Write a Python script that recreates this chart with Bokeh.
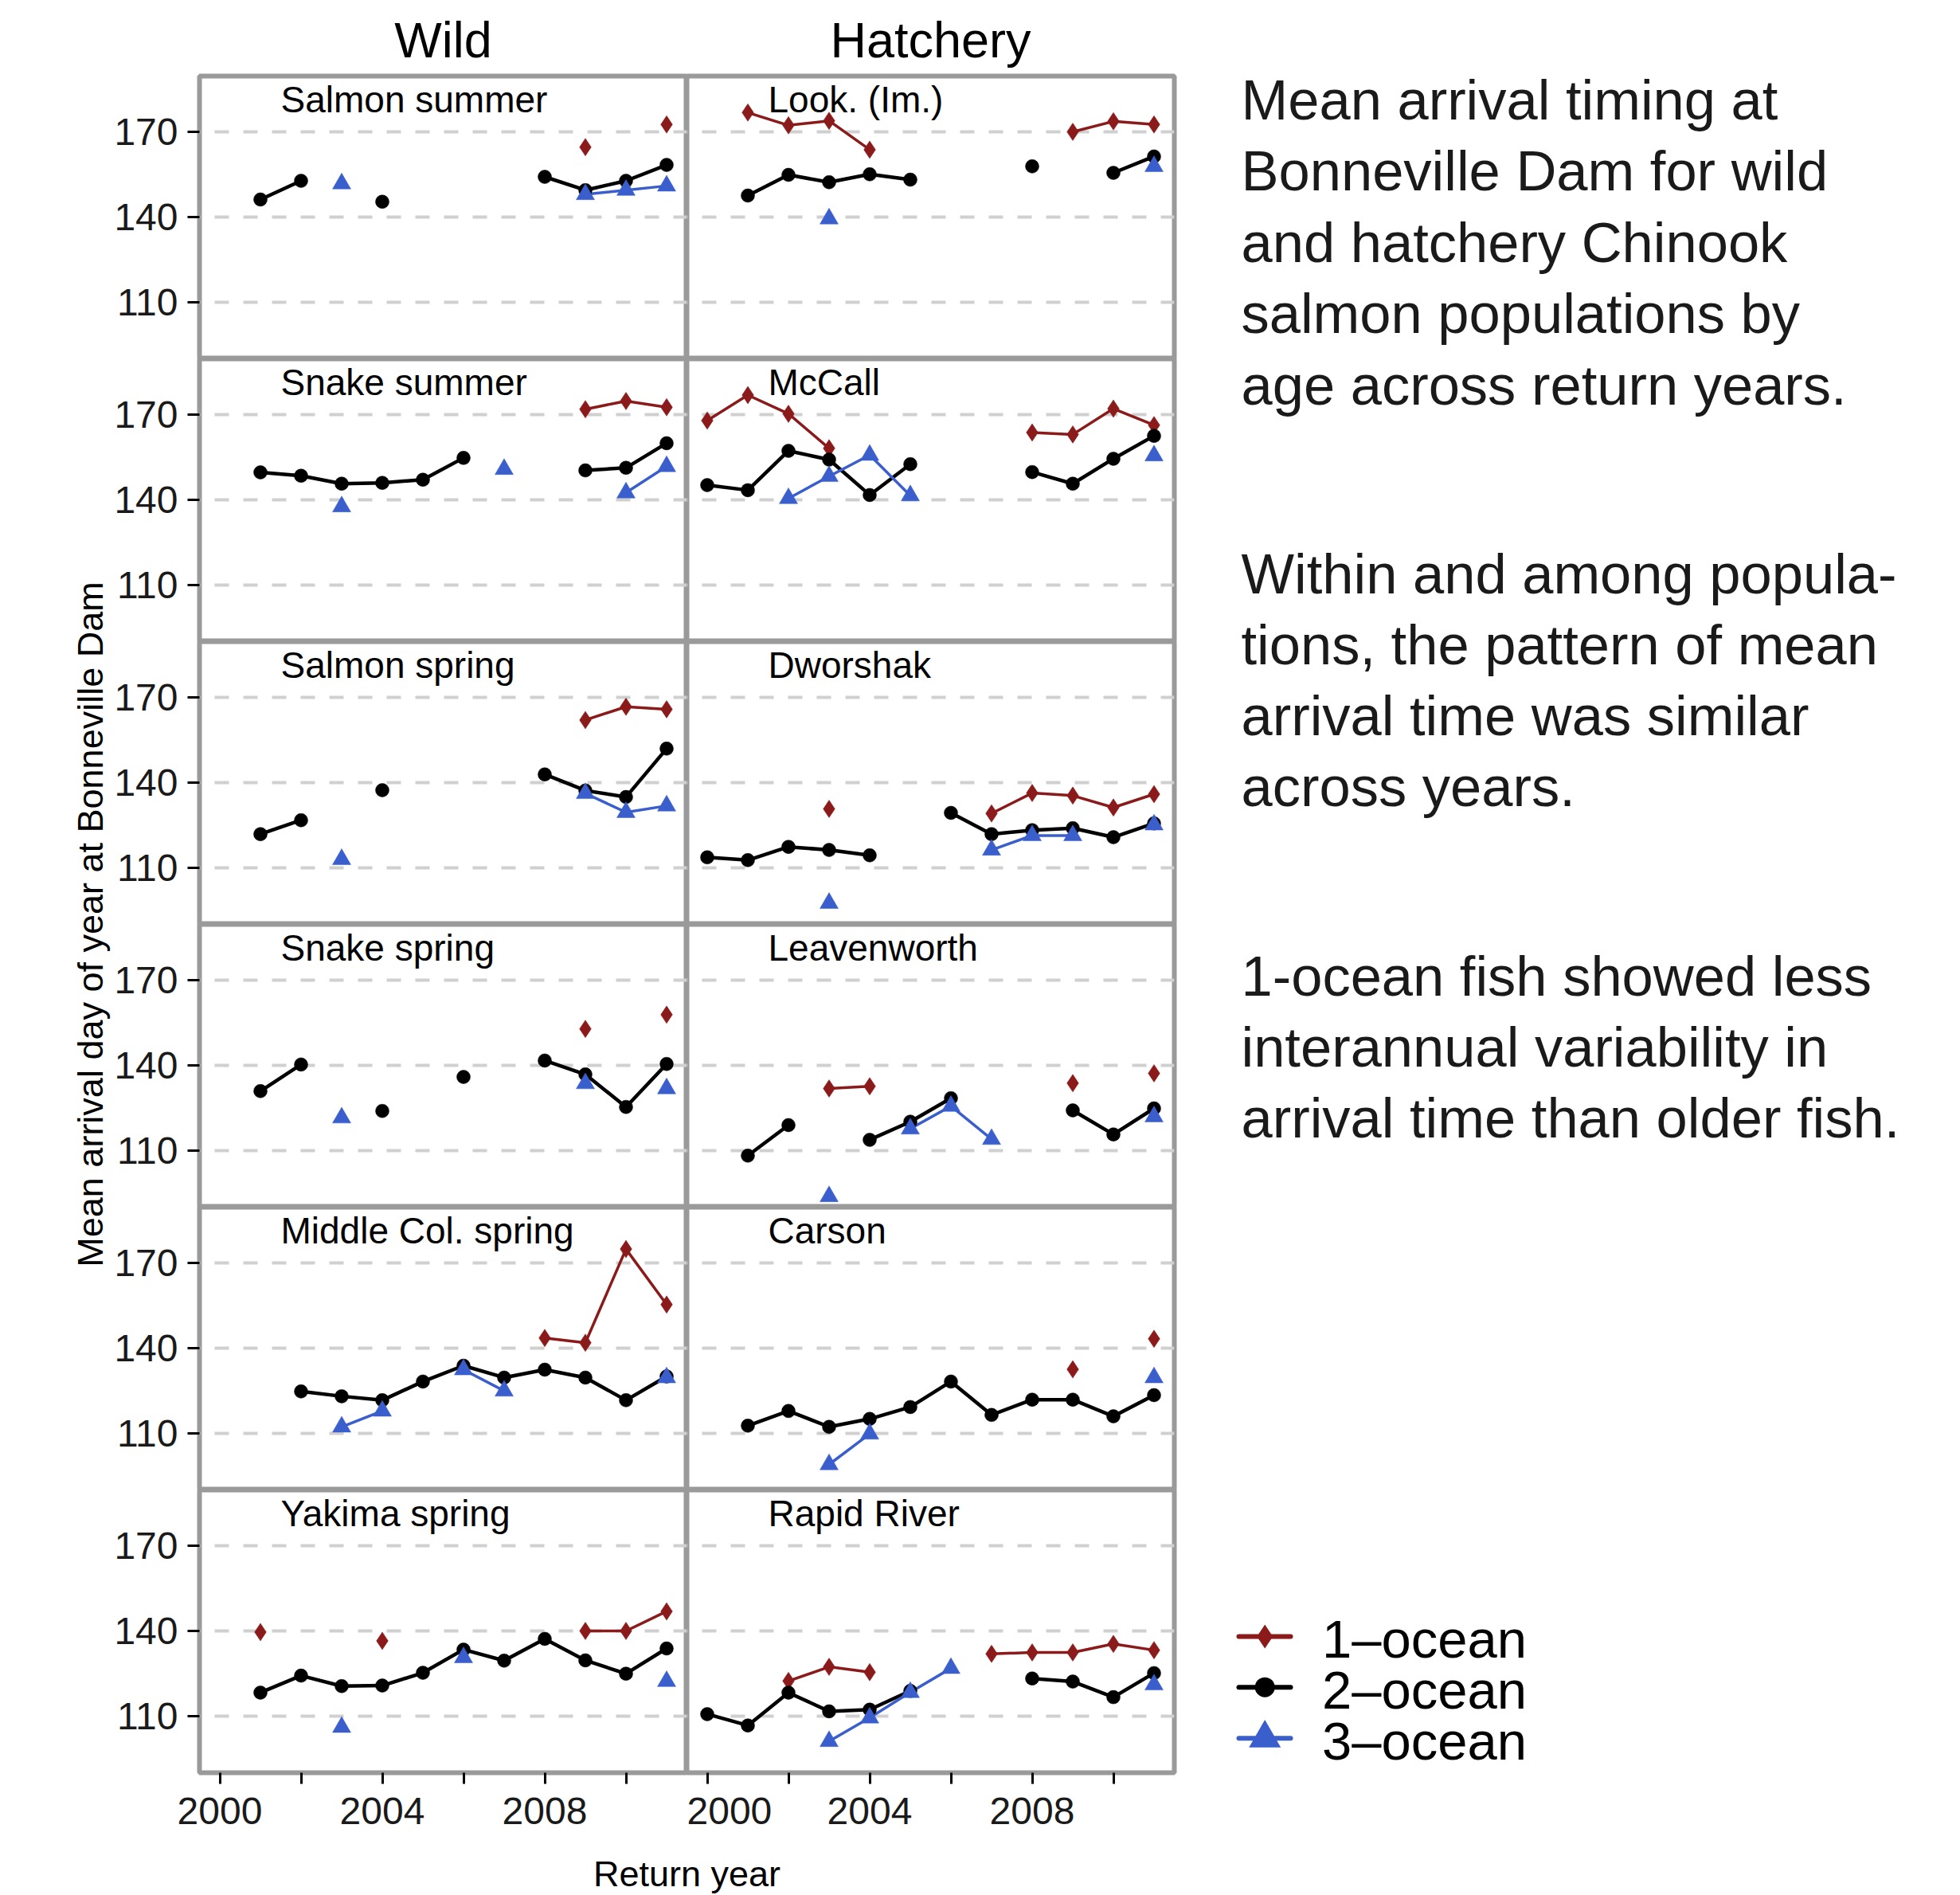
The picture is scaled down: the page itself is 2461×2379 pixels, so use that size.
import numpy as np
from bokeh.plotting import figure
from bokeh.layouts import row, column
from bokeh.models import Range1d, FixedTicker, Label
from bokeh.embed import file_html
from bokeh.resources import INLINE

N = None
YEARS = [2000, 2001, 2002, 2003, 2004, 2005, 2006, 2007, 2008, 2009, 2010, 2011]
Y_TICKS = [110, 140, 170]
X_TICKS = [2000, 2002, 2004, 2006, 2008, 2010]
X_LABELS = {2000: "2000", 2002: "", 2004: "2004", 2006: "", 2008: "2008", 2010: ""}
ORIGINS = ["Wild", "Hatchery"]
AGES = ["1\u2013ocean", "2\u2013ocean", "3\u2013ocean"]

# ---- Wild populations (left column) ----
WILD_NAMES = ["Salmon summer", "Snake summer", "Salmon spring", "Snake spring",
              "Middle Col. spring", "Yakima spring"]
salmon_summer_1 = [N, N, N, N, N, N, N, N, N, 164.7, N, 172.7]
salmon_summer_2 = [N, 146.2, 152.8, N, 145.4, N, N, N, 154.2, 149.5, 152.8, 158.4]
salmon_summer_3 = [N, N, N, 151.8, N, N, N, N, N, 148.0, 149.5, 151.0]

snake_summer_1 = [N, N, N, N, N, N, N, N, N, 172.0, 174.9, 172.7]
snake_summer_2 = [N, 149.7, 148.5, 145.7, 146.0, 147.1, 154.8, N, N, 150.4, 151.3, 160.0]
snake_summer_3 = [N, N, N, 137.6, N, N, N, 150.8, N, N, 142.5, 151.8]

salmon_spring_1 = [N, N, N, N, N, N, N, N, N, 162.1, 166.8, 165.9]
salmon_spring_2 = [N, 121.8, 126.7, N, 137.3, N, N, N, 142.9, 137.2, 134.9, 152.0]
salmon_spring_3 = [N, N, N, 112.9, N, N, N, N, N, 136.2, 129.5, 131.8]

snake_spring_1 = [N, N, N, N, N, N, N, N, N, 152.9, N, 157.9]
snake_spring_2 = [N, 130.9, 140.3, N, 123.9, N, 135.9, N, 141.7, 136.8, 125.3, 140.5]
snake_spring_3 = [N, N, N, 121.5, N, N, N, N, N, 133.6, N, 131.8]

midcol_spring_1 = [N, N, N, N, N, N, N, N, 143.6, 141.9, 175.0, 155.4]
midcol_spring_2 = [N, N, 124.7, 123.0, 121.6, 128.2, 133.8, 129.6, 132.4, 129.6, 121.6, 130.0]
midcol_spring_3 = [N, N, N, 112.2, 117.8, N, 132.4, 124.9, N, N, N, 129.6]

yakima_spring_1 = [N, 139.6, N, N, 136.5, N, N, N, N, 140.0, 140.0, 146.9]
yakima_spring_2 = [N, 118.2, 124.2, 120.5, 120.7, 125.2, 133.4, 129.5, 137.2, 129.6, 124.9, 133.8]
yakima_spring_3 = [N, N, N, 106.0, N, N, 130.6, N, N, N, N, 122.2]

# ---- Hatchery populations (right column) ----
HATCH_NAMES = ["Look. (Im.)", "McCall", "Dworshak", "Leavenworth", "Carson", "Rapid River"]
look_1 = [N, 176.9, 172.4, 174.0, 163.8, N, N, N, N, 170.1, 173.8, 172.7]
look_2 = [N, 147.6, 154.9, 152.3, 155.1, 153.2, N, N, 157.9, N, 155.6, 161.4]
look_3 = [N, N, N, 139.4, N, N, N, N, N, N, N, 157.9]

mccall_1 = [168.0, 177.0, 170.4, 158.2, N, N, N, N, 163.8, 163.1, 172.2, 166.4]
mccall_2 = [145.2, 143.4, 157.3, 154.2, 141.7, 152.6, N, N, 149.8, 145.7, 154.5, 162.6]
mccall_3 = [N, N, 140.5, 148.3, 155.8, 141.5, N, N, N, N, N, 155.6]

dworshak_1 = [N, N, N, 130.7, N, N, N, 129.1, 136.3, 135.4, 131.2, 135.9]
dworshak_2 = [113.6, 112.6, 117.3, 116.2, 114.3, N, 129.3, 121.8, 123.2, 123.9, 120.7, 125.6]
dworshak_3 = [N, N, N, 97.4, N, N, N, 116.2, 121.3, 121.3, N, 125.1]

leaven_1 = [N, N, N, 131.8, 132.6, N, N, N, N, 133.7, N, 137.2]
leaven_2 = [N, 108.1, 118.9, N, 113.7, 120.1, 128.4, N, N, 124.1, 115.6, 124.8]
leaven_3 = [N, N, N, 93.7, N, 117.6, 125.6, 113.9, N, N, N, 121.9]

carson_1 = [N, N, N, N, N, N, N, N, N, 132.5, N, 143.3]
carson_2 = [N, 112.6, 117.8, 112.2, 115.0, 119.2, 128.2, 116.4, 121.8, 121.8, 115.9, 123.4]
carson_3 = [N, N, N, 98.9, 109.7, N, N, N, N, N, N, 129.6]

rapid_1 = [N, N, 122.3, 127.3, 125.4, N, N, 131.9, 132.4, 132.4, 135.4, 133.2]
rapid_2 = [110.6, 106.6, 118.2, 111.6, 112.2, 118.8, N, N, 123.2, 122.1, 116.6, 125.1]
rapid_3 = [N, N, N, 101.0, 109.3, 118.3, 126.8, N, N, N, N, 121.0]

WILD_DATA = [
    (salmon_summer_1, salmon_summer_2, salmon_summer_3),
    (snake_summer_1, snake_summer_2, snake_summer_3),
    (salmon_spring_1, salmon_spring_2, salmon_spring_3),
    (snake_spring_1, snake_spring_2, snake_spring_3),
    (midcol_spring_1, midcol_spring_2, midcol_spring_3),
    (yakima_spring_1, yakima_spring_2, yakima_spring_3),
]
HATCH_DATA = [
    (look_1, look_2, look_3),
    (mccall_1, mccall_2, mccall_3),
    (dworshak_1, dworshak_2, dworshak_3),
    (leaven_1, leaven_2, leaven_3),
    (carson_1, carson_2, carson_3),
    (rapid_1, rapid_2, rapid_3),
]

TEXT_BLOCKS = [
    ["Mean arrival timing at", "Bonneville Dam for wild", "and hatchery Chinook",
     "salmon populations by", "age across return years."],
    ["Within and among popula-", "tions, the pattern of mean", "arrival time was similar",
     "across years."],
    ["1-ocean fish showed less", "interannual variability in",
     "arrival time than older fish."],
]

# ---- styling ----
FONT = "Liberation Sans"
RED = "#8B1A1A"
BLACK = "#000000"
BLUE = "#3A5FCD"
COLORS = [RED, BLACK, BLUE]
MARKERS = ["diamond", "circle", "triangle"]
MSIZE = [22, 17, 23]
LWIDTH = [3.5, 4.5, 3.5]
BORDER = "#9a9a9a"
BASE_SHIFT = 0.34  # em: Bokeh draws alphabetic-baseline labels this much lower
TICK_FS = 48
STRIP_FS = 46

X0, X1 = 1999.5, 2011.5
Y0, Y1 = 89.9, 189.8
FRAME_W, FRAME_H = 612, 355
LEFT_B, TOP_B, RIGHT_B, BOT_B = 110, 4, 4, 95
HEADER_H = 91
YLAB_W = 140
FOOTER_H = 58
LEFT_BLOCK_W = YLAB_W + (FRAME_W + LEFT_B) + (FRAME_W + RIGHT_B)
PANELS_H = (FRAME_H + TOP_B) + 4 * FRAME_H + (FRAME_H + BOT_B)
TOTAL_H = HEADER_H + PANELS_H + FOOTER_H
RIGHT_W = 975
PX_PER_UNIT = FRAME_H / (Y1 - Y0)


def blank(w, h):
    p = figure(width=w, height=h, x_range=Range1d(0, w), y_range=Range1d(0, h),
               x_axis_location=None, y_axis_location=None, min_border=0,
               output_backend="svg", toolbar_location=None)
    p.grid.visible = False
    p.outline_line_color = None
    return p


def style_axis(ax, tick_out, standoff):
    ax.axis_line_color = None
    ax.major_tick_out = tick_out
    ax.major_tick_in = 0
    ax.major_tick_line_width = 3
    ax.major_tick_line_color = "black"
    ax.minor_tick_line_color = None
    ax.major_label_standoff = standoff
    ax.major_label_text_font = FONT
    ax.major_label_text_font_size = f"{TICK_FS}px"
    ax.major_label_text_color = "#1a1a1a"


def panel(name, series, col, r):
    mbl = LEFT_B if col == 0 else 0
    mbr = RIGHT_B if col == 1 else 0
    mbt = TOP_B if r == 0 else 0
    mbb = BOT_B if r == 5 else 0
    p = figure(width=FRAME_W + mbl + mbr, height=FRAME_H + mbt + mbb,
               x_range=Range1d(X0, X1), y_range=Range1d(Y0, Y1),
               x_axis_location="below" if r == 5 else None,
               y_axis_location="left" if col == 0 else None,
               min_border=0, min_border_left=mbl, min_border_right=mbr,
               min_border_top=mbt, min_border_bottom=mbb,
               output_backend="svg", toolbar_location=None)
    p.outline_line_color = BORDER
    p.outline_line_width = 6
    p.xgrid.visible = False
    p.ygrid.ticker = FixedTicker(ticks=Y_TICKS)
    p.ygrid.grid_line_color = "#d0d0d0"
    p.ygrid.grid_line_width = 4
    p.ygrid.grid_line_dash = "18 18"
    p.ygrid.grid_line_dash_offset = 17
    if col == 0:
        ax = p.yaxis[0]
        ax.ticker = FixedTicker(ticks=Y_TICKS)
        style_axis(ax, 15, 12)
    if r == 5:
        ax = p.xaxis[0]
        ax.ticker = FixedTicker(ticks=X_TICKS)
        ax.major_label_overrides = X_LABELS
        style_axis(ax, 14, 17)
    xs = np.array(YEARS, dtype=float)
    arrs = [np.array(s, dtype=float) for s in series]
    for a, c, lw in zip(arrs, COLORS, LWIDTH):
        p.line(xs, a, line_color=c, line_width=lw, line_join="round")
    for a, c, m, s in zip(arrs, COLORS, MARKERS, MSIZE):
        ok = ~np.isnan(a)
        p.scatter(xs[ok], a[ok], marker=m, size=s, fill_color=c, line_color=c, line_width=0.5)
    p.add_layout(Label(x=2001.5, y=177.0 + BASE_SHIFT * STRIP_FS / PX_PER_UNIT, text=name,
                       text_font=FONT, text_font_size=f"{STRIP_FS}px", text_color="black",
                       text_align="left", text_baseline="alphabetic"))
    return p


rows = []
for r in range(6):
    left = panel(WILD_NAMES[r], WILD_DATA[r], 0, r)
    right = panel(HATCH_NAMES[r], HATCH_DATA[r], 1, r)
    rows.append(row(left, right))
panels = column(*rows)

# header with column strip titles
header = blank(LEFT_BLOCK_W, HEADER_H)
col_centers = [250 + FRAME_W / 2, 250 + FRAME_W * 1.5]
for txt, cx in zip(ORIGINS, col_centers):
    header.add_layout(Label(x=cx, y=HEADER_H - 70.7 + BASE_SHIFT * 63, text=txt,
                            text_font=FONT, text_font_size="63px", text_color="black",
                            text_align="center", text_baseline="alphabetic"))

# y axis title (rotated)
ylab = blank(YLAB_W, PANELS_H)
ylab.add_layout(Label(x=128 - BASE_SHIFT * 45, y=PANELS_H - (1160 - HEADER_H),
                      angle=np.pi / 2,
                      text="Mean arrival day of year at Bonneville Dam", text_font=FONT,
                      text_font_size="45px", text_color="black", text_align="center",
                      text_baseline="alphabetic"))

# x axis title
footer = blank(LEFT_BLOCK_W, FOOTER_H)
footer.add_layout(Label(x=862, y=(TOTAL_H - 2367) + BASE_SHIFT * 45, text="Return year",
                        text_font=FONT, text_font_size="45px", text_color="black",
                        text_align="center", text_baseline="alphabetic"))

# right side: notes and legend
right = blank(RIGHT_W, TOTAL_H)
REF_X0 = LEFT_BLOCK_W


def ry(ref_y):
    return TOTAL_H - ref_y


starts = [148.3, 743.3, 1249.0]
steps = [89.6, 89.2, 89.0]
for block, s0, st in zip(TEXT_BLOCKS, starts, steps):
    for i, line in enumerate(block):
        right.add_layout(Label(x=1558 - REF_X0, y=ry(s0 + i * st) + BASE_SHIFT * 70,
                               text=line, text_font=FONT, text_font_size="70.5px",
                               text_color="#1a1a1a", text_align="left",
                               text_baseline="alphabetic"))

legend_rows = [2054.0, 2117.7, 2181.7]
legend_msize = [30, 25, 40]
for age, ly, c, m, ms in zip(AGES, legend_rows, COLORS, MARKERS, legend_msize):
    yy = ry(ly)
    right.line([1555 - REF_X0, 1620 - REF_X0], [yy, yy], line_color=c, line_width=6,
               line_cap="round")
    right.scatter([1587.7 - REF_X0], [yy], marker=m, size=ms, fill_color=c, line_color=c,
                  line_width=0)
    right.add_layout(Label(x=1659.5 - REF_X0, y=ry(ly + 26) + BASE_SHIFT * 67, text=age,
                           text_font=FONT, text_font_size="67px", text_color="black",
                           text_align="left", text_baseline="alphabetic"))

left_block = column(header, row(ylab, panels), footer)
layout = row(left_block, right)

open("out.html", "w").write(file_html(layout, INLINE))
